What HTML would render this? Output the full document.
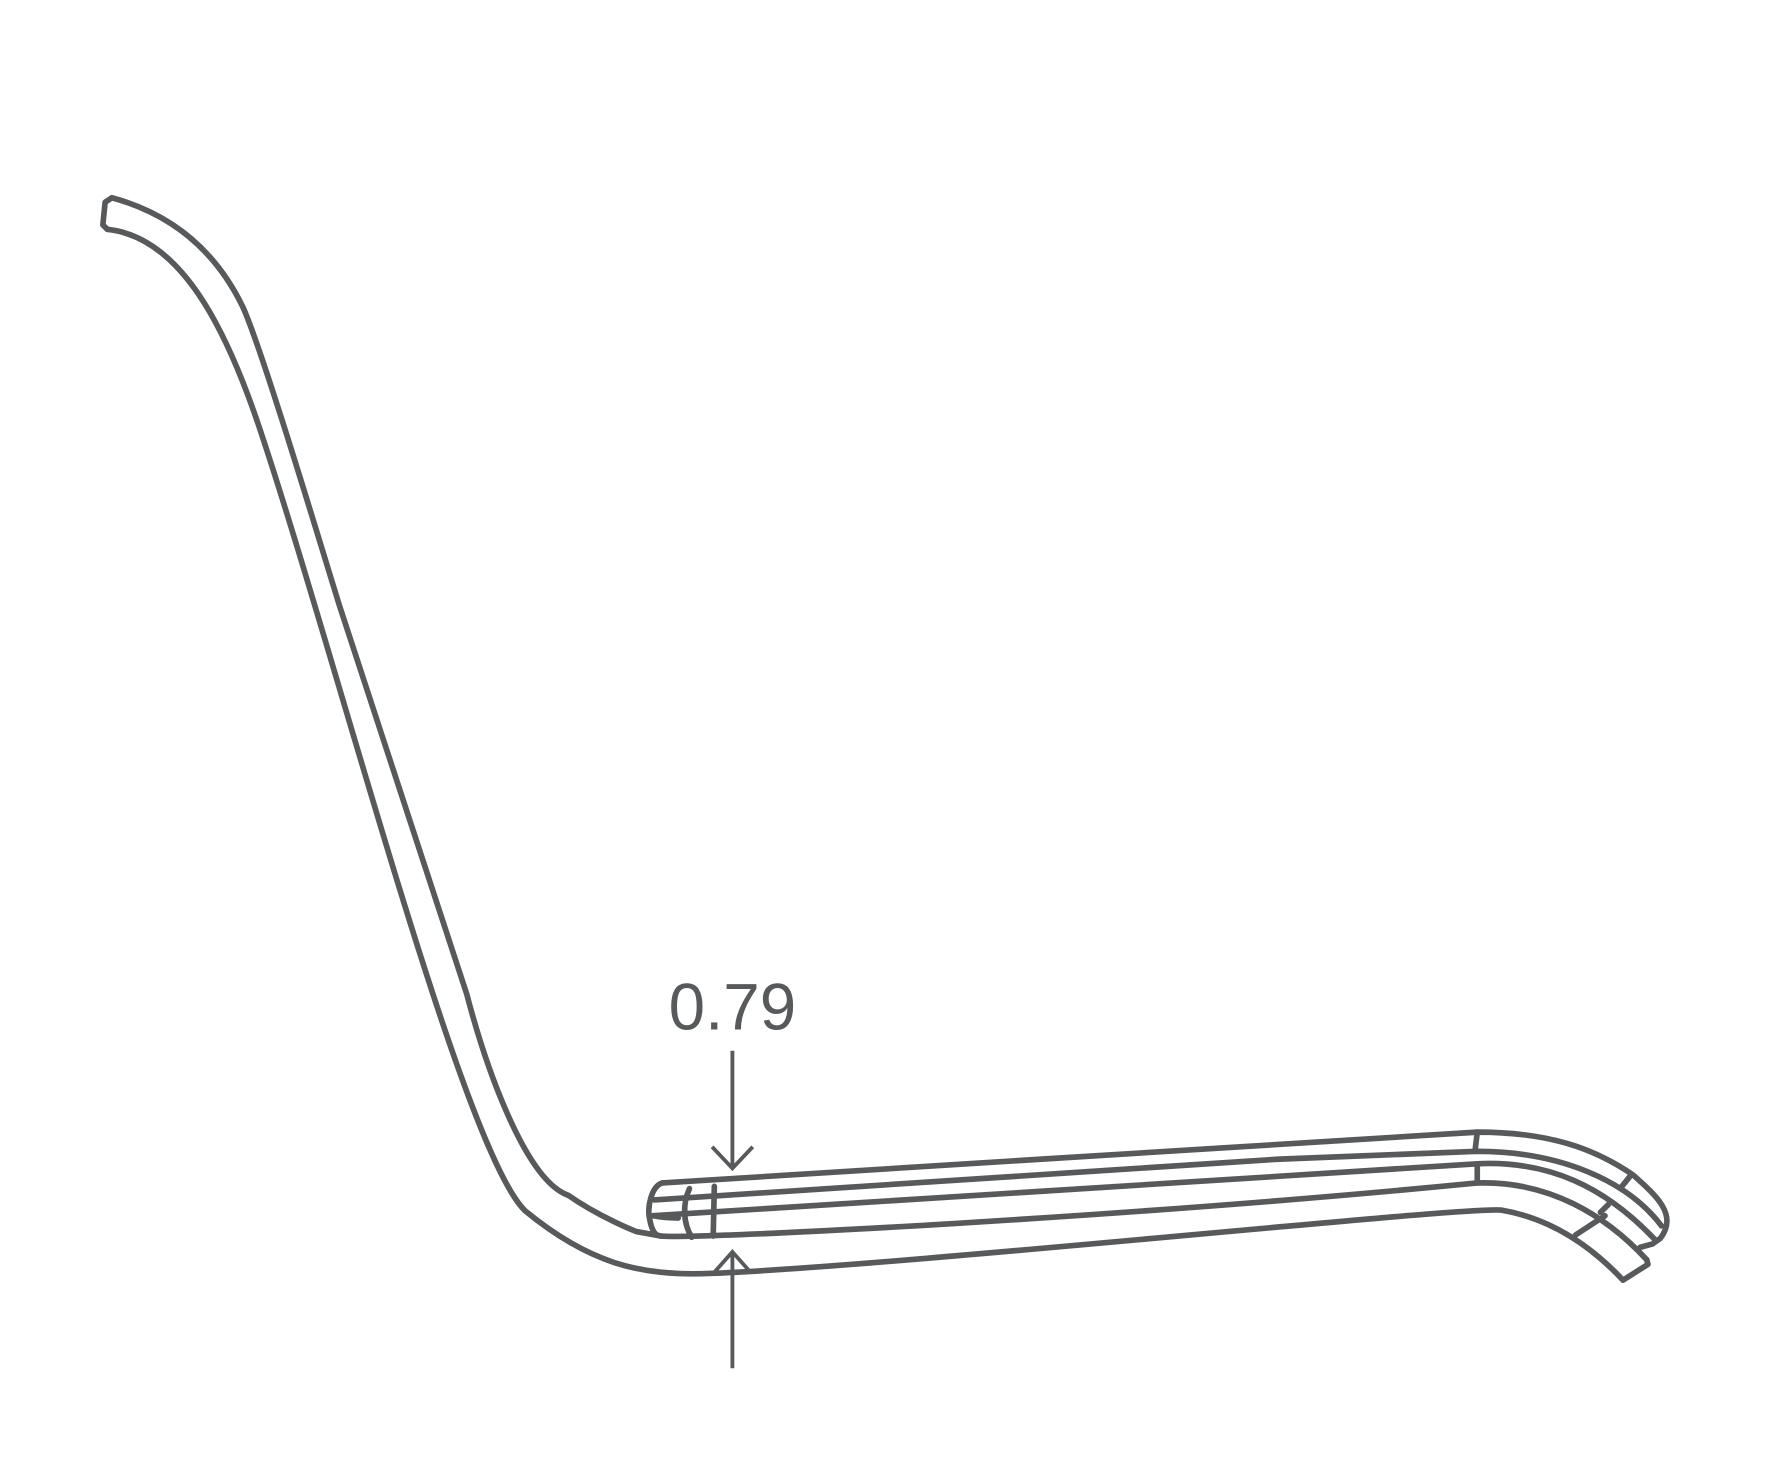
<!DOCTYPE html>
<html><head><meta charset="utf-8"><style>
html,body{margin:0;padding:0;background:#fff;}
svg{display:block;}
</style></head><body>
<svg width="1770" height="1479" viewBox="0 0 1566 1309" preserveAspectRatio="none" xmlns="http://www.w3.org/2000/svg">
<g fill="none" stroke="#58595b" stroke-width="5" stroke-linecap="round" stroke-linejoin="round">
<path d="M95,203 L91,199 L93,179 L99,175 C150,189 190,220 215,272 C232,310 280,470 300,535 L413,880 C430,945 465,1045 503,1058 C530,1077 563,1090 563,1090 L585,1094"/>
<path d="M95,203 C160,210 200,290 230,380 C300,590 410,1020 465,1072 C520,1117 565,1130 630,1127 C800,1120 1290,1068 1328,1071 C1370,1078 1405,1100 1436,1133 L1458,1119 L1457,1115"/>
<path d="M586,1047 L920,1026 L1307,1002 C1370,1002 1410,1016 1445,1040 C1465,1058 1485,1075 1469,1096 L1462,1101 L1451,1104"/>
<path d="M579,1062 L1130,1026 L1307,1019 C1380,1019 1440,1045 1470,1085"/>
<path d="M578,1076 L1307,1030 C1370,1027 1420,1050 1465,1098"/>
<path d="M578,1076 C583,1077 590,1078 600,1078"/>
<path d="M586,1047 C576,1050 572,1070 575,1080 C577,1090 580,1094 585,1094 C620,1097 1000,1077 1307,1047 C1370,1045 1420,1075 1457,1115"/>
<path d="M1307,1002 L1305,1019"/>
<path d="M1307,1030 L1307,1047"/>
<path d="M1435,1050 L1443,1040"/>
<path d="M1416,1073 L1423,1066"/>
<path d="M1394,1093 L1420,1076"/>
<path d="M610,1052 C604,1065 604,1082 612,1095"/>
<path d="M632,1050 L631,1094"/>
</g>
<g fill="none" stroke="#58595b" stroke-width="3.4">
<path d="M648,930 L648,1033"/>
<path d="M630,1015 L648,1034 L666,1015"/>
<path d="M648,1108 L648,1211"/>
<path d="M632,1126 L648,1108 L664,1126"/>
</g>
<text x="648" y="911" text-anchor="middle" font-family="Liberation Sans, DejaVu Sans, sans-serif" font-size="58" fill="#58595b">0.79</text>
</svg>
</body></html>
